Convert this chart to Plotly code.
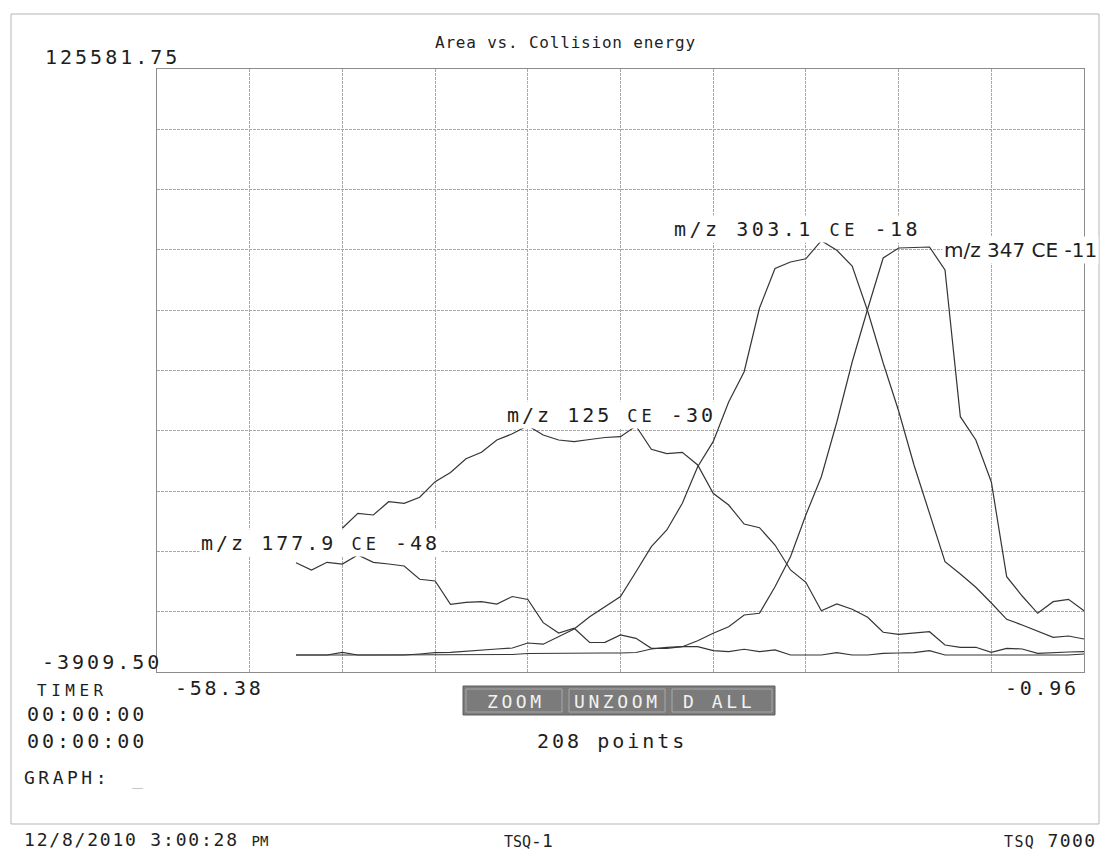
import plotly.graph_objects as go

# ---------------- data ----------------
ce = [-49.77, -48.81, -47.85, -46.90, -45.94, -44.98, -44.03, -43.07, -42.11, -41.15,
      -40.20, -39.24, -38.28, -37.33, -36.37, -35.41, -34.46, -33.50, -32.54, -31.58,
      -30.63, -29.67, -28.71, -27.76, -26.80, -25.84, -24.89, -23.93, -22.97, -22.01,
      -21.06, -20.10, -19.14, -18.19, -17.23, -16.27, -15.32, -14.36, -13.40, -12.44,
      -11.49, -10.53, -9.57, -8.62, -7.66, -6.70, -5.75, -4.79, -3.83, -2.87,
      -1.92, -0.96]

area_177_9 = [19560, 18000, 19650, 19280, 21220, 19650, 19280, 18850, 16000, 15630,
              10630, 11060, 11190, 10690, 12300, 11660, 6680, 4470, 5480, 2430,
              2470, 4040, 3330, 1180, 1180, 1520, 1520, 670, 450, 970,
              450, 820, -260, -260, -260, 240, -260, -260, 110, 170,
              240, 670, -260, -260, -260, -260, -260, -260, -260, -260,
              -260, -40]

area_125 = [None, None, None, 26950, 30170, 29810, 32660, 32320, 33610, 36960,
            38930, 41880, 43290, 45910, 47240, 48960, 46990, 45910, 45550, 46020,
            46450, 46620, 48920, 43920, 42970, 43270, 40540, 34470, 31950, 27870,
            27080, 23360, 18000, 15350, 9250, 10690, 9560, 7840, 4620, 4190,
            4470, 4740, 1890, 1400, 1400, 320, 1180, 1030, 110, 280,
            390, 450]

area_303_1 = [-260, -260, -260, -260, -260, -260, -260, -260, -40, 240,
              320, 600, 820, 1030, 1240, 2320, 2060, 3670, 5320, 7970,
              10110, 12300, 17630, 23000, 26590, 32320, 40180, 45550, 54070, 60580,
              74260, 82740, 84140, 84830, 88710, 86650, 83280, 73620, 62450, 52140,
              40540, 30240, 19780, 17140, 14280, 10910, 7410, 6180, 4900, 3540,
              3820, 3180]

area_347 = [-260, -260, -260, 320, -260, -260, -260, -260, -260, -260,
            -260, -260, -260, -260, -150, 60, 110, 110, 110, 110,
            170, 170, 280, 1030, 1400, 1520, 2810, 4400, 5820, 8330,
            8700, 14410, 20850, 29810, 38030, 49780, 62660, 74040, 85000, 87140,
            87300, 87360, 82420, 50920, 45910, 36890, 16560, 12410, 8700, 11190,
            11700, 9250]

series_labels = ["m/z 177.9 CE -48", "m/z 125 CE -30", "m/z 303.1 CE -18", "m/z 347 CE -11"]

x_min, x_max = -58.38, -0.96
y_min, y_max = -3909.50, 125581.75
x_tick_labels = ["-58.38", "-0.96"]
y_tick_labels = ["-3909.50", "125581.75"]

title_text = "Area vs. Collision energy"
points_text = "208 points"

# ---------------- layout geometry ----------------
W, H = 1110, 854
L, R, T, B = 157, 1084, 69, 672
MONO = "DejaVu Sans Mono"
SANS = "DejaVu Sans"
INK = "#1e1e1e"


def px(xp):
    return (xp - L) / (R - L)


def py(yp):
    return (B - yp) / (B - T)


def spaced(text, ls):
    return f'<span style="letter-spacing:{ls}px">{text}</span>'


fig = go.Figure()
for ys in [area_177_9, area_125, area_303_1, area_347]:
    fig.add_trace(go.Scatter(x=ce, y=ys, mode="lines",
                             line=dict(color="#353535", width=1.2),
                             connectgaps=False, showlegend=False,
                             hoverinfo="skip"))

grid = dict(showgrid=True, gridcolor="#a8a8a8", gridwidth=1, griddash="3px,1px",
            zeroline=False, showticklabels=False, ticks="",
            showline=True, linecolor="#8c8c8c", linewidth=1, mirror=True)
fig.update_xaxes(range=[x_min, x_max], tick0=x_min, dtick=(x_max - x_min) / 10, **grid)
fig.update_yaxes(range=[y_min, y_max], tick0=y_min, dtick=(y_max - y_min) / 10, **grid)

anns = []


def add_text(text, xp, yp, size, ls, xanchor="center", color=INK, family=MONO):
    anns.append(dict(text=spaced(text, ls) if ls else text,
                     x=px(xp), y=py(yp), xref="paper", yref="paper",
                     xanchor=xanchor, yanchor="middle", showarrow=False,
                     font=dict(family=family, size=size, color=color)))


# title and axis extremes
add_text(title_text, 565, 43, 16, 0.8)
add_text(y_tick_labels[1], 43, 57, 20, 3, xanchor="left")
add_text(y_tick_labels[0], 40, 662, 20, 3, xanchor="left")
add_text(x_tick_labels[0], 173, 688, 20, 2.7, xanchor="left")
add_text(x_tick_labels[1], 1003, 688, 20, 2.7, xanchor="left")

# left status block
add_text("TIMER", 35, 690, 16, 4.5, xanchor="left")
add_text("00:00:00", 25, 714, 20, 3, xanchor="left")
add_text("00:00:00", 25, 741, 20, 3, xanchor="left")
add_text("GRAPH:", 22, 777, 18, 3.5, xanchor="left")
add_text("_", 130, 778, 18, 0, xanchor="left", color="#9a9a9a")

# points count
add_text(points_text, 612, 741, 20, 3)

# footer
anns.append(dict(text=spaced("12/8/2010 3:00:28 ", 1.8) + '<span style="font-size:14px">PM</span>',
                 x=px(22), y=py(839), xref="paper", yref="paper", xanchor="left",
                 yanchor="middle", showarrow=False, font=dict(family=MONO, size=18, color=INK)))
anns.append(dict(text='<span style="font-size:15px">TSQ</span>-1',
                 x=px(528), y=py(840), xref="paper", yref="paper", xanchor="center",
                 yanchor="middle", showarrow=False, font=dict(family=MONO, size=18, color=INK)))
anns.append(dict(text='<span style="font-size:15px;letter-spacing:1.4px">TSQ</span>' + spaced(" 7000", 1.4),
                 x=px(1098), y=py(840), xref="paper", yref="paper", xanchor="right",
                 yanchor="middle", showarrow=False, font=dict(family=MONO, size=18, color=INK)))


# curve labels, anchored in data coordinates
def curve_label(label, xd, yd, ls=3, xanchor="center", family=MONO):
    if family == MONO:
        head, tail = label.split(" CE ")
        text = (spaced(head + " ", ls) +
                f'<span style="font-size:17px;letter-spacing:{ls + 1}px">CE</span>' +
                spaced(" " + tail, ls))
    else:
        text = label
    anns.append(dict(text=text, x=xd, y=yd, xref="x", yref="y", xanchor=xanchor,
                     yanchor="middle", showarrow=False, bgcolor="white", borderpad=1,
                     font=dict(family=family, size=20, color=INK)))


curve_label(series_labels[0], -48.28, 23790)
curve_label(series_labels[1], -30.20, 51280)
curve_label(series_labels[2], -18.70, 91230, ls=3.5)
curve_label(series_labels[3], -9.76, 86700, xanchor="left", family=SANS)

# buttons
shapes = []


def rect(x0, y0, x1, y1, **kw):
    shapes.append(dict(type="rect", xref="paper", yref="paper",
                       x0=px(x0), x1=px(x1), y0=py(y1), y1=py(y0), **kw))


# outer frame
rect(11, 14, 1099, 824, line=dict(color="#b5b5b5", width=1), fillcolor="rgba(0,0,0,0)", layer="below")
# button strip
rect(463, 686, 775, 715, line=dict(color="#5e5e5e", width=1), fillcolor="#7b7b7b")
for bx0, bx1 in [(466, 562), (569, 665), (672, 772)]:
    rect(bx0, 689, bx1, 712, line=dict(color="#a9a9a9", width=1), fillcolor="rgba(0,0,0,0)")

for label, cx in [("ZOOM", 516), ("UNZOOM", 617), ("D ALL", 719)]:
    add_text(label, cx, 701, 18, 3.6, color="#f2f2f2")

fig.update_layout(width=W, height=H,
                  margin=dict(l=L, r=W - R, t=T, b=H - B),
                  paper_bgcolor="white", plot_bgcolor="white",
                  showlegend=False, annotations=anns, shapes=shapes,
                  font=dict(family=MONO, color=INK))

fig.write_html("out.html")
